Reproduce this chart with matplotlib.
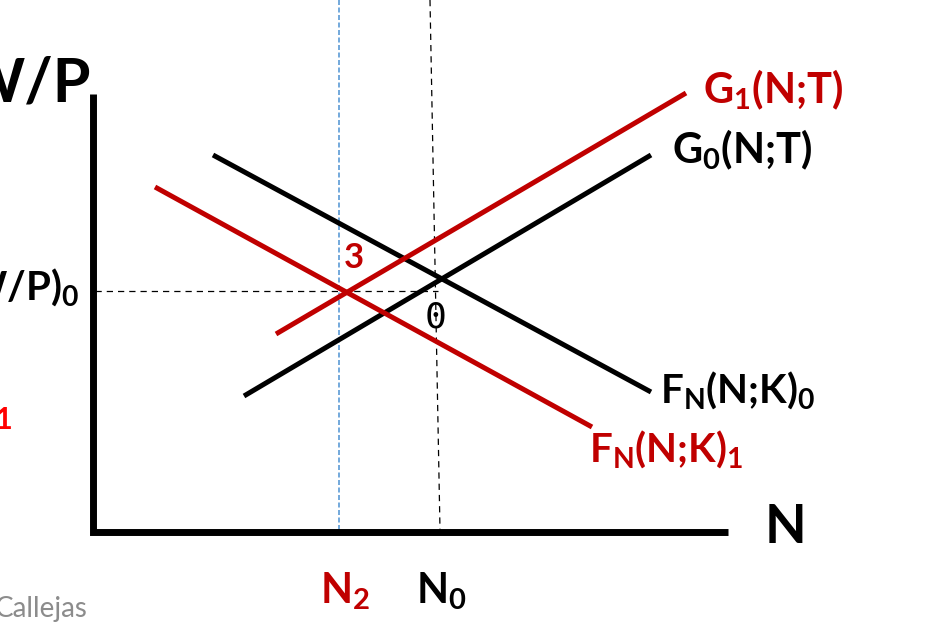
import matplotlib
matplotlib.use("Agg")
import matplotlib.pyplot as plt

plt.rcParams["font.family"] = ["Lato", "DejaVu Sans"]
plt.rcParams["mathtext.fontset"] = "custom"
plt.rcParams["mathtext.rm"] = "Lato:bold"
plt.rcParams["mathtext.bf"] = "Lato:bold"
plt.rcParams["mathtext.it"] = "Lato:bold"
plt.rcParams["mathtext.default"] = "bf"

RED = "#C00000"

# curves: (N, W/P) end points
f0_n = [12.0, 55.8]
f0_w = [37.7, 14.0]
f1_n = [6.2, 49.9]
f1_w = [34.5, 10.5]
g0_n = [15.1, 55.8]
g0_w = [13.6, 37.7]
g1_n = [18.3, 59.3]
g1_w = [19.8, 43.9]

# reference levels
wp0 = 24.1
n2 = 24.6
n0_top, n0_bottom = 33.7, 34.7

fig = plt.figure(figsize=(9.35, 6.28), dpi=100)
ax = fig.add_axes([0, 0, 1, 1])
ax.set_xlim(-9.3, 84.2)
ax.set_ylim(-9.6, 53.2)
ax.axis("off")

# guide lines
ax.plot([0.2, 34.5], [wp0, wp0], color="black", lw=0.9, ls=(0, (5, 4)))
ax.plot([n0_top, n0_bottom], [53.2, 0.2], color="black", lw=0.9, ls=(0, (5, 4)))
ax.plot([n2, n2], [0.2, 53.2], color="#5B9BD5", lw=1.2, ls=(0, (3, 1.5)))

# axes
ax.plot([0, 0, 63.5], [43.8, 0, 0], color="black", lw=5, solid_joinstyle="miter",
        solid_capstyle="butt")

# curves
ax.plot(f0_n, f0_w, color="black", lw=3.6, solid_capstyle="butt")
ax.plot(g0_n, g0_w, color="black", lw=3.6, solid_capstyle="butt")
ax.plot(f1_n, f1_w, color=RED, lw=3.6, solid_capstyle="butt")
ax.plot(g1_n, g1_w, color=RED, lw=3.6, solid_capstyle="butt")

# labels
bold = dict(fontweight="bold", va="baseline")
ax.text(-0.2, 43.0, "W/P", size=44, ha="right", **bold)
ax.text(-1.4, 23.2, r"(W/P)$_0$", size=29, ha="right", **bold)
ax.text(-8.0, 10.3, "1", size=22, ha="right", color="#FF0000", **bold)
ax.text(67.2, -1.1, "N", size=39, ha="left", **bold)
ax.text(22.7, -7.1, r"N$_2$", size=30, ha="left", color=RED, **bold)
ax.text(32.3, -7.1, r"N$_0$", size=30, ha="left", **bold)
ax.text(25.1, 26.4, "3", size=25, ha="left", color=RED, **bold)
ax.text(33.2, 20.5, "0", size=26, ha="left", va="baseline", family="DejaVu Sans Mono")
ax.text(61.0, 42.9, r"G$_1$(N;T)", size=30, ha="left", color=RED, **bold)
ax.text(57.9, 36.9, r"G$_0$(N;T)", size=30, ha="left", **bold)
ax.text(56.7, 12.9, r"F$_N$(N;K)$_0$", size=29, ha="left", **bold)
ax.text(49.6, 7.0, r"F$_N$(N;K)$_1$", size=29, ha="left", color=RED, **bold)
ax.text(-0.5, -8.5, "Callejas", size=20, ha="right", va="baseline", color="#8C8C8C")

fig.savefig("out.png", dpi=100)
